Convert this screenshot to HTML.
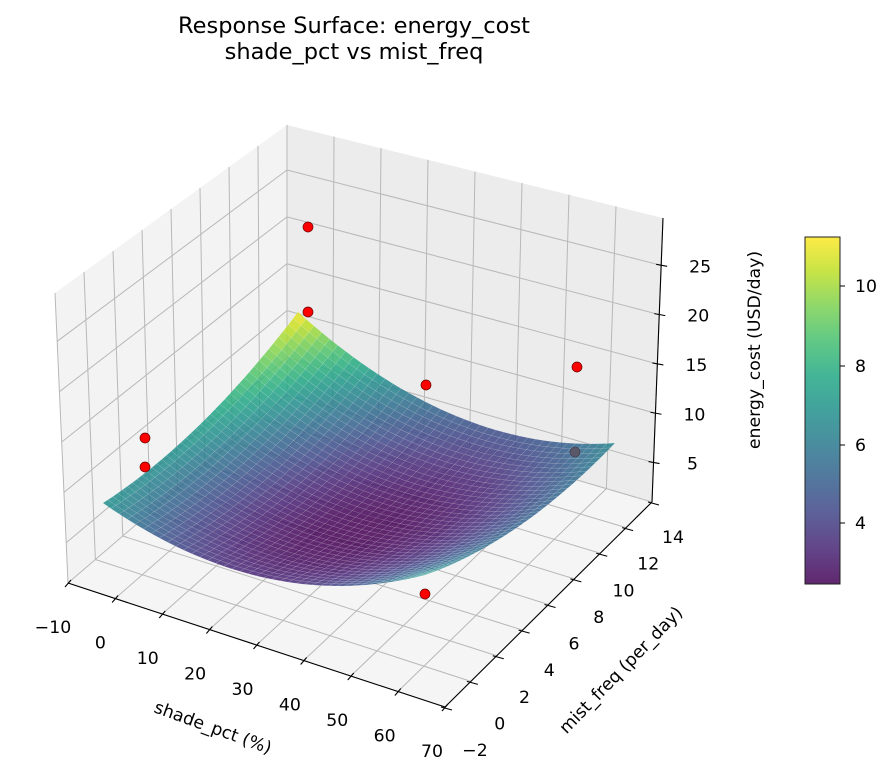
<!DOCTYPE html>
<html><head><meta charset="utf-8"><style>
body{margin:0;background:#fff;}
svg{display:block;font-family:"DejaVu Sans","Liberation Sans",sans-serif;}
</style></head><body>
<svg id="s" width="896" height="775" viewBox="0 0 896 775" xmlns="http://www.w3.org/2000/svg">
<defs>
<linearGradient id="cb" x1="0" y1="1" x2="0" y2="0">
<stop offset="0" stop-color="#440154"/><stop offset="0.1" stop-color="#482475"/><stop offset="0.2" stop-color="#414487"/><stop offset="0.3" stop-color="#355f8d"/><stop offset="0.4" stop-color="#2a788e"/><stop offset="0.5" stop-color="#21918c"/><stop offset="0.6" stop-color="#22a884"/><stop offset="0.7" stop-color="#44bf70"/><stop offset="0.8" stop-color="#7ad151"/><stop offset="0.9" stop-color="#bddf26"/><stop offset="1" stop-color="#fde725"/>
</linearGradient>
</defs>
<text x="354" y="33" font-size="22.5" text-anchor="middle">Response Surface: energy_cost</text>
<text x="354" y="59" font-size="22.5" text-anchor="middle">shade_pct vs mist_freq</text>
<g id="panes"></g>
<g id="surf"></g>
<g id="pts"></g>
<g id="axes"></g>
<rect x="805" y="237" width="35" height="347" fill="url(#cb)" opacity="0.85"/>
<rect x="805" y="237" width="35" height="347" fill="none" stroke="#222" stroke-width="1"/>
<g stroke="#000">
<line x1="840" y1="523" x2="845" y2="523"/><line x1="840" y1="445" x2="845" y2="445"/><line x1="840" y1="366" x2="845" y2="366"/><line x1="840" y1="286" x2="845" y2="286"/>
</g>
<g font-size="17.3">
<text x="855" y="529">4</text><text x="855" y="451">6</text><text x="855" y="372">8</text><text x="855" y="292">10</text>
</g>
<text transform="translate(760,350) rotate(-90)" font-size="17.3" text-anchor="middle">energy_cost (USD/day)</text>
<text transform="translate(211,733) rotate(20)" font-size="17.3" text-anchor="middle">shade_pct (%)</text>
<text transform="translate(625,674) rotate(-46)" font-size="17.3" text-anchor="middle">mist_freq (per_day)</text>
</svg>
<script>
var NS="http://www.w3.org/2000/svg";
function el(p,t,a){var e=document.createElementNS(NS,t);for(var k in a)e.setAttribute(k,a[k]);p.appendChild(e);return e;}
function lerp(a,b,t){return [a[0]+(b[0]-a[0])*t,a[1]+(b[1]-a[1])*t];}
function bil(A,B,C,D,u,v){return lerp(lerp(A,B,u),lerp(D,C,u),v);}
var A=[68,583],B=[445,707],C=[652,502],D=[287,395];
var A2=[55,293],B2=[440,420],C2=[663,218],D2=[287,125];
var panes=document.getElementById('panes');
function poly(g,pts,attrs){attrs.points=pts.map(function(p){return p[0].toFixed(1)+','+p[1].toFixed(1)}).join(' ');return el(g,'polygon',attrs);}
poly(panes,[A,A2,D2,D],{fill:'#f3f3f3'});
poly(panes,[D,D2,C2,C],{fill:'#ececec'});
poly(panes,[A,B,C,D],{fill:'#f5f5f5'});
var gs={stroke:'#b8b8b8','stroke-width':1,fill:'none'};
function ln(g,p,q,a){var o={x1:p[0],y1:p[1],x2:q[0],y2:q[1]};for(var k in a)o[k]=a[k];return el(g,'line',o);}
var zmin=1,zmax=29.8;
function zf(z){return (z-zmin)/(zmax-zmin);}
for(var i=0;i<=8;i++){var t=i/8;ln(panes,lerp(A,D,t),lerp(A2,D2,t),gs);}
for(var z=5;z<=25;z+=5){var f=zf(z);ln(panes,lerp(A,A2,f),lerp(D,D2,f),gs);}
for(var i=0;i<=8;i++){var t=i/8;ln(panes,lerp(D,C,t),lerp(D2,C2,t),gs);}
for(var z=5;z<=25;z+=5){var f=zf(z);ln(panes,lerp(D,D2,f),lerp(C,C2,f),gs);}
for(var i=0;i<=8;i++){var t=i/8;ln(panes,lerp(A,B,t),lerp(D,C,t),gs);ln(panes,lerp(A,D,t),lerp(B,C,t),gs);}
var vir=[[68,1,84],[72,36,117],[65,68,135],[53,95,141],[42,120,142],[33,145,140],[34,168,132],[68,191,112],[122,209,81],[189,223,38],[253,231,37]];
function cmap(t){t=Math.max(0,Math.min(1,t))*10;var i=Math.min(9,Math.floor(t)),f=t-i;var a=vir[i],b=vir[i+1];return [a[0]+(b[0]-a[0])*f,a[1]+(b[1]-a[1])*f,a[2]+(b[2]-a[2])*f];}
function zs(u,v){var du=u-0.55,dv=v-0.4;return 2.4+15.6*du*du+6.65*dv*dv-5.4*du*dv;}
var k=9.9;
var F00=[103,503+k*zs(0,0)],F10=[425,575+k*zs(1,0)],F11=[615,443+k*zs(1,1)],F01=[298,312+k*zs(0,1)];
function P(u,v){var f=bil(F00,F10,F11,F01,u,v);return [f[0],f[1]-k*zs(u,v)];}
var N=40,quads=[];
for(var i=0;i<N;i++)for(var j=0;j<N;j++){quads.push([i/N,j/N]);}
quads.sort(function(a,b){return (b[1]-b[0])-(a[1]-a[0]);});
var sg=document.getElementById('surf');
var zlo=2.45,zhi=11.3;
quads.forEach(function(q){var u=q[0],v=q[1],d=1/N;
 var z=zs(u+d/2,v+d/2);var c=cmap((z-zlo)/(zhi-zlo));
 var col='rgb('+c.map(Math.round).join(',')+')';
 poly(sg,[P(u,v),P(u+d,v),P(u+d,v+d),P(u,v+d)],{fill:col,'fill-opacity':0.85,stroke:'rgba(255,255,255,0.18)','stroke-width':0.5});
});
var pg=document.getElementById('pts');
el(pg,'circle',{cx:575,cy:452,r:5,fill:'#5a5868',stroke:'#3a3a4a','stroke-width':0.6});
[[308,227],[308,312],[426,385],[577,367],[145,438],[145,467],[425,594]].forEach(function(p){el(pg,'circle',{cx:p[0],cy:p[1],r:5,fill:'#ff0000',stroke:'#600','stroke-width':0.7});});
var ag=document.getElementById('axes');
var ak={stroke:'#000','stroke-width':1.1};
ln(ag,A,B,ak);ln(ag,B,C,ak);ln(ag,C,C2,ak);
var xl=['\u221210','0','10','20','30','40','50','60','70'];
for(var i=0;i<=8;i++){var t=i/8;var p=lerp(A,B,t);ln(ag,[p[0]+3,p[1]-3],[p[0]-3,p[1]+4],ak);
 var tx=el(ag,'text',{x:p[0]-15+2*t,y:p[1]+50,'font-size':17.3,'text-anchor':'middle'});tx.textContent=xl[i];}
var yl=['\u22122','0','2','4','6','8','10','12','14'];
for(var i=0;i<=8;i++){var t=i/8;var p=lerp(B,C,t);ln(ag,[p[0]-4,p[1]],[p[0]+7,p[1]+3],ak);
 var tx=el(ag,'text',{x:p[0]+30-9*t,y:p[1]+49-8*t,'font-size':17.3,'text-anchor':'middle'});tx.textContent=yl[i];}
for(var z=5;z<=25;z+=5){var p=lerp(C,C2,zf(z));ln(ag,[p[0]-5,p[1]-1],[p[0]+6,p[1]+1],ak);
 var tx=el(ag,'text',{x:p[0]+39,y:p[1]+7,'font-size':17.3,'text-anchor':'middle'});tx.textContent=z;}
</script>
</body></html>
